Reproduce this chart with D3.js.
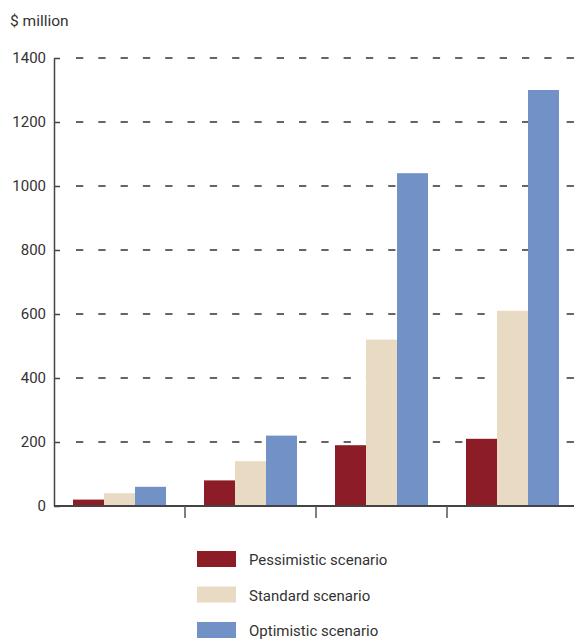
<!DOCTYPE html>
<html>
<head>
<meta charset="utf-8">
<script src="https://cdn.jsdelivr.net/npm/d3@7"></script>
<style>
  body { margin: 0; background: #fff; }
  svg text { font-family: Roboto, "Open Sans", sans-serif; fill: #333; }
</style>
</head>
<body>
<div id="chart"></div>
<script>
// data ($ million)
const groups = ["g1", "g2", "g3", "g4"];
const seriesNames = ["Pessimistic scenario", "Standard scenario", "Optimistic scenario"];
const pessimistic = [20, 80, 190, 210];
const standard = [40, 140, 520, 610];
const optimistic = [60, 220, 1040, 1300];
const yTicks = [0, 200, 400, 600, 800, 1000, 1200, 1400];
const colors = ["#8c1c26", "#e9dac4", "#7291c6"];

const width = 574, height = 639;
const svg = d3.select("#chart").append("svg")
    .attr("width", width)
    .attr("height", height);

let y = d3.scaleLinear().domain([0, 1400]).range([506, 58]);
let x = d3.scaleBand().domain(groups).range([54, 578]);
let xSub = d3.scaleBand().domain(seriesNames).range([19, 112]);

// unit label
svg.append("text")
    .attr("x", 10).attr("y", 26)
    .style("font-size", "15.5px")
    .text("$ million");

// dashed gridlines
svg.selectAll(".grid")
    .data(yTicks.filter(d => d > 0))
    .enter()
    .append("line")
    .attr("x1", 76).attr("x2", width)
    .attr("y1", d => y(d)).attr("y2", d => y(d))
    .attr("stroke", "#333")
    .attr("stroke-width", 1.5)
    .attr("stroke-dasharray", "7.3,15");

// bars
let series = [pessimistic, standard, optimistic];
series.forEach((vals, si) => {
    svg.selectAll(".bar" + si)
        .data(vals)
        .enter()
        .append("rect")
        .attr("x", (d, i) => x(groups[i]) + xSub(seriesNames[si]))
        .attr("width", xSub.bandwidth())
        .attr("y", d => y(d))
        .attr("height", d => y(0) - y(d))
        .attr("fill", colors[si]);
});

// y axis
let yAxis = d3.axisLeft(y).tickValues(yTicks).tickFormat(d3.format("d"))
    .tickSize(-6).tickPadding(8).tickSizeOuter(0);
let gy = svg.append("g").attr("transform", "translate(54,0)").call(yAxis);
gy.select(".domain").attr("stroke", "#444").attr("stroke-width", 1.5);
gy.selectAll(".tick line").attr("stroke", "#444").attr("stroke-width", 1.5);
gy.selectAll(".tick text")
    .style("font-size", "15px")
    .style("font-family", "Roboto, sans-serif")
    .attr("fill", "#333");

// x baseline and separators between groups
svg.append("line")
    .attr("x1", 54).attr("x2", width)
    .attr("y1", y(0)).attr("y2", y(0))
    .attr("stroke", "#444").attr("stroke-width", 2);

svg.selectAll(".sep")
    .data(groups.slice(1))
    .enter()
    .append("line")
    .attr("x1", d => x(d)).attr("x2", d => x(d))
    .attr("y1", y(0)).attr("y2", y(0) + 12)
    .attr("stroke", "#555").attr("stroke-width", 1.5);

// legend
let legend = svg.selectAll(".legend")
    .data(seriesNames)
    .enter()
    .append("g")
    .attr("transform", (d, i) => "translate(197," + (551 + i * 35.5) + ")");

legend.append("rect")
    .attr("width", 39).attr("height", 16)
    .attr("fill", (d, i) => colors[i]);

legend.append("text")
    .attr("x", 52).attr("y", 14)
    .style("font-size", "15px")
    .text(d => d);
</script>
</body>
</html>
